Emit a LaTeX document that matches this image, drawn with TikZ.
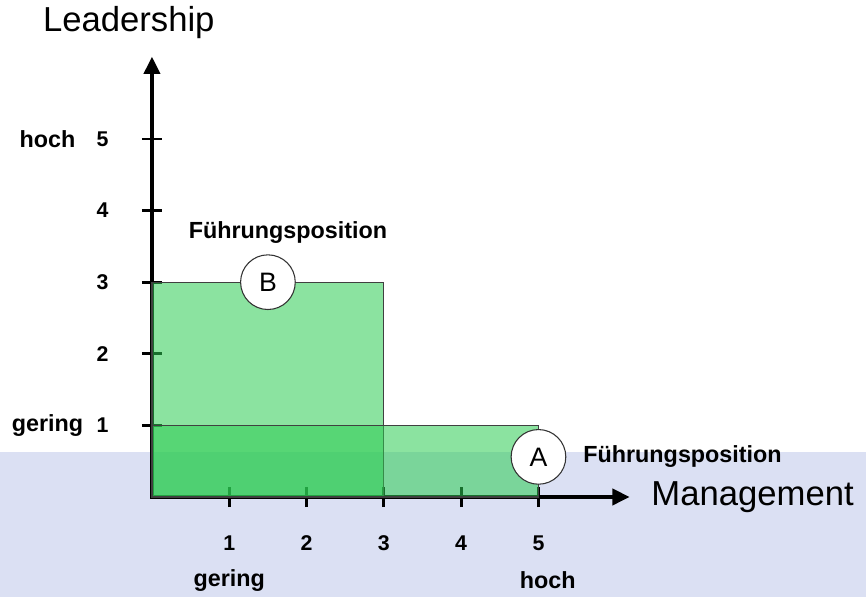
\documentclass[tikz,border=0pt]{standalone}
\usepackage{fontspec}
\setmainfont{Liberation Sans}
\usetikzlibrary{arrows.meta,positioning}

\definecolor{bandblue}{RGB}{219,224,243}
\definecolor{zonegreen}{RGB}{44,204,82}

\tikzset{
  every node/.style={font=\bfseries\fontsize{17.5}{20}\selectfont},
  axis/.style={{Triangle[length=13pt,width=12pt]}-{Triangle[length=13pt,width=12pt]}, line width=3pt},
  tickmark/.style={line width=2.2pt},
  number/.style={font=\bfseries\fontsize{16}{18}\selectfont},
  zone/.style={fill=zonegreen, fill opacity=0.55, draw=black!75, line width=0.8pt},
  marker/.style={circle, draw=black!80, fill=white, line width=0.8pt, minimum size=41pt, inner sep=0pt, font=\fontsize{20}{22}\selectfont},
  axislabel/.style={font=\fontsize{26}{28}\selectfont},
}

\begin{document}
\begin{tikzpicture}[x=57.975pt,y=53.7pt]
    \useasboundingbox (-1.966,-1.397) rectangle (9.237,6.941);
    \fill[bandblue] (-1.966,-1.397) rectangle (9.237,0.628);

    \coordinate (O) at (0,0);
    \coordinate (ytop) at (0,6.15);
    \coordinate (xend) at (6.18,0);
    \draw[axis] (ytop) -- (O) -- (xend);
    \foreach \i in {1,...,5} {
      \draw[tickmark] (\i,-0.14) -- (\i,0.14);
      \draw[tickmark] (-0.13,\i) -- (0.13,\i);
      \node[number, anchor=east] (yl\i) at (-0.5,\i) {\i};
      \node[number] (xl\i) at (\i,-0.64) {\i};
    }

    \draw[zone] (O) rectangle (3,3);
    \draw[zone] (O) rectangle (5,1);

    \node[axislabel] (ylabel) at (-0.3,6.63) {Leadership};
    \node[axislabel, anchor=west] (xlabel) at (6.40,0) {Management};
    \node[anchor=east] (yhigh) at (-0.93,5) {hoch};
    \node[anchor=east] (ylow) at (-0.83,1) {gering};
    \node (xlow) at (1,-1.16) {gering};
    \node (xhigh) at (5.12,-1.16) {hoch};

    \node[marker] (B) at (1.5,3) {B};
    \node[marker] (A) at (5,0.56) {A};
    \node (posB) at (1.76,3.69) {Führungsposition};
    \node[anchor=west] (posA) at (5.52,0.56) {Führungsposition};
\end{tikzpicture}
\end{document}
